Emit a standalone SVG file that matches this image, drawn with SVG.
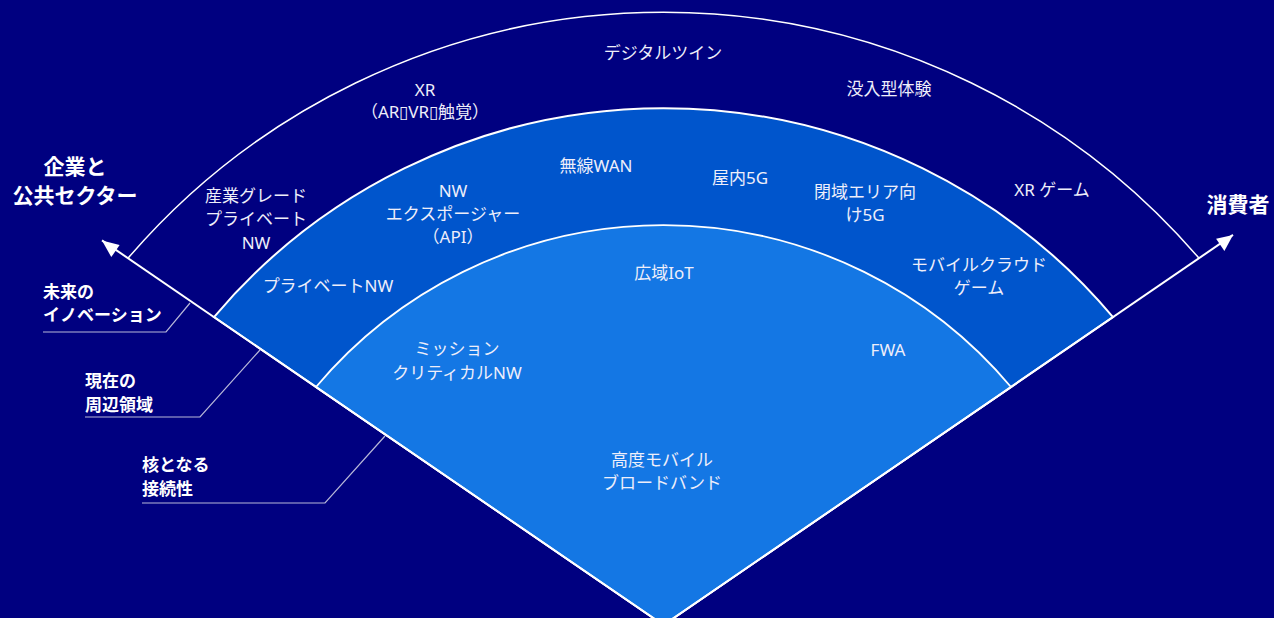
<svg xmlns="http://www.w3.org/2000/svg" width="1274" height="618" viewBox="0 0 1274 618">
<defs>
<style>
.t{font-family:"Noto Sans","Noto Sans CJK JP",sans-serif;font-size:17px;fill:#eeeefa;text-anchor:middle;dominant-baseline:central}
.b{font-family:"Noto Sans CJK JP","Noto Sans",sans-serif;font-weight:bold;fill:#ffffff;dominant-baseline:central}
.big{font-size:21px;text-anchor:middle}
.sm{font-size:17px}
.edge{stroke:#ffffff;stroke-width:2;fill:none}
.lead{stroke:#b8b8d8;stroke-width:1.2;fill:none}
</style>
</defs>
<rect width="1274" height="618" fill="#000080"/>
<g id="ring-future">
<path d="M128,258.2 A706,706 0 0 1 1199,258.2" fill="none" stroke="#ffffff" stroke-width="1.5"/>
</g>
<g id="ring-current">
<path d="M663.5,625 L214,317.1 A588,588 0 0 1 1113,317.1 Z" fill="#0055cc" stroke="#ffffff" stroke-width="2"/>
</g>
<g id="ring-core">
<path d="M663.5,625 L316,387 A454,454 0 0 1 1011,387 Z" fill="#1477e4" stroke="#ffffff" stroke-width="1.8"/>
</g>
<g id="connectors">
<line class="edge" x1="663.5" y1="625" x2="102" y2="240.4"/>
<line class="edge" x1="663.5" y1="625" x2="1233" y2="234.9"/>
<path d="M102,240.4 L119.6,245 L111.3,257.1 Z" fill="#ffffff"/>
<path d="M1233,234.9 L1224.4,250.9 L1216.1,238.8 Z" fill="#ffffff"/>
<polyline class="lead" points="43,332 166,332 190,303"/>
<polyline class="lead" points="85,417 200,417 260,350"/>
<polyline class="lead" points="142,503 325,503 385,436"/>
</g>
<g id="label-enterprise">
<text class="b big" x="75" y="165">企業と</text>
<text class="b big" x="75" y="194">公共セクター</text>
</g>
<g id="label-consumer">
<text class="b big" x="1238" y="203">消費者</text>
</g>
<g id="label-future">
<text class="b sm" x="43" y="290">未来の</text>
<text class="b sm" x="43" y="313">イノベーション</text>
</g>
<g id="label-current">
<text class="b sm" x="85" y="379">現在の</text>
<text class="b sm" x="85" y="403">周辺領域</text>
</g>
<g id="label-core">
<text class="b sm" x="142" y="463">核となる</text>
<text class="b sm" x="142" y="487">接続性</text>
</g>
<g id="n-digitaltwin"><text class="t" x="663" y="52">デジタルツイン</text></g>
<g id="n-xr"><text class="t" x="425" y="89">XR</text><text class="t" x="425" y="111">（AR▯VR▯触覚）</text></g>
<g id="n-immersive"><text class="t" x="889" y="88">没入型体験</text></g>
<g id="n-industrial"><text class="t" x="256" y="195">産業グレード</text><text class="t" x="256" y="218">プライベート</text><text class="t" x="256" y="242">NW</text></g>
<g id="n-xrgame"><text class="t" x="1052" y="189">XR ゲーム</text></g>
<g id="n-exposure"><text class="t" x="453" y="190">NW</text><text class="t" x="453" y="213">エクスポージャー</text><text class="t" x="453" y="236">（API）</text></g>
<g id="n-wwan"><text class="t" x="596" y="165">無線WAN</text></g>
<g id="n-indoor"><text class="t" x="740" y="177">屋内5G</text></g>
<g id="n-closed"><text class="t" x="865" y="191">閉域エリア向</text><text class="t" x="865" y="214">け5G</text></g>
<g id="n-private"><text class="t" x="328" y="285">プライベートNW</text></g>
<g id="n-cloudgame"><text class="t" x="979" y="264">モバイルクラウド</text><text class="t" x="979" y="287">ゲーム</text></g>
<g id="n-wideiot"><text class="t" x="664" y="272">広域IoT</text></g>
<g id="n-mission"><text class="t" x="457" y="348">ミッション</text><text class="t" x="457" y="372">クリティカルNW</text></g>
<g id="n-fwa"><text class="t" x="888" y="349">FWA</text></g>
<g id="n-embb"><text class="t" x="662" y="459">高度モバイル</text><text class="t" x="662" y="482">ブロードバンド</text></g>
</svg>
